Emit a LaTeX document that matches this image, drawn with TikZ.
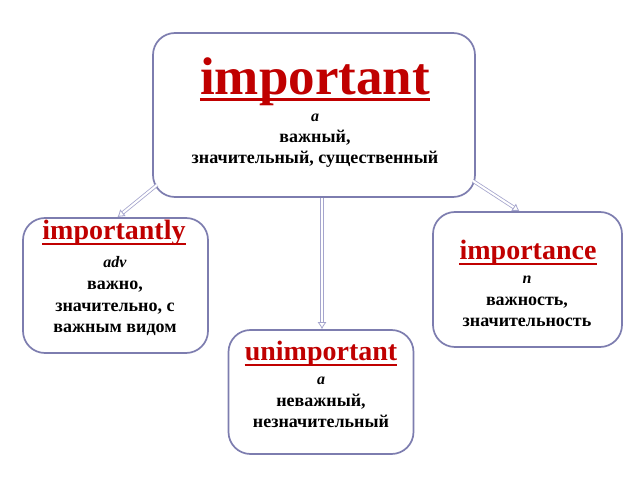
\documentclass[tikz,border=0pt]{standalone}
\usepackage{fontspec}
\setmainfont{Liberation Serif}
\usetikzlibrary{arrows.meta}
\definecolor{titlered}{RGB}{192,0,0}
\definecolor{boxline}{RGB}{125,125,175}
\definecolor{arrowline}{RGB}{165,165,205}
\begin{document}
\begin{tikzpicture}[x=1pt,y=-1pt,
 box/.style={draw=boxline,line width=1.7pt,rounded corners=22pt,fill=white,inner sep=0pt},
 ttl/.style={text=titlered,font=\bfseries\fontsize{28}{32}\selectfont,inner sep=0pt,anchor=base},
 bigttl/.style={ttl,font=\bfseries\fontsize{53}{60}\selectfont},
 body/.style={font=\bfseries\fontsize{18}{21}\selectfont,anchor=base,inner sep=0pt},
 gram/.style={font=\bfseries\itshape\fontsize{16}{18}\selectfont,anchor=base,inner sep=0pt},
 uline/.style={draw=titlered,line width=2pt},
 link/.style={draw=arrowline,line width=0.8pt,double=white,double distance=2pt,-{Latex[open,length=7pt,width=9pt]}}
]
\useasboundingbox[fill=white] (0,0) rectangle (638,478);
% boxes
\node[box,minimum width=322pt,minimum height=164pt] (top) at (314,115) {};
\node[box,minimum width=185pt,minimum height=135pt] (lft) at (115.5,285.5) {};
\node[box,minimum width=189pt,minimum height=135pt] (rgt) at (527.5,279.5) {};
\node[box,minimum width=185pt,minimum height=124pt] (bot) at (321,392) {};
% connectors
\draw[link] ([shift={(5,-13)}]top.south west) -- ([xshift=2pt]lft.north);
\draw[link] ([shift={(-3,-17)}]top.south east) -- ([xshift=-8pt]rgt.north);
\draw[link] ([xshift=1pt]bot.north |- top.south) -- ([xshift=1pt]bot.north);
% top box text
\node[bigttl] (t0) at (315,95) {important};
\draw[uline,line width=3pt] ([yshift=-4.5pt]t0.base west) -- ([yshift=-4.5pt]t0.base east);
\node[gram] (p0) at (315,122) {a};
\node[body] (b0a) at (315,143) {важный,};
\node[body] (b0b) at (315,164) {значительный, существенный};
% left box text
\node[ttl] (t1) at (114,240) {importantly};
\draw[uline] ([yshift=-4pt]t1.base west) -- ([yshift=-4pt]t1.base east);
\node[gram] (p1) at (115,268) {adv};
\node[body] (b1a) at (115,290) {важно,};
\node[body] (b1b) at (115,312) {значительно, с};
\node[body] (b1c) at (115,333) {важным видом};
% right box text
\node[ttl] (t2) at (528,260) {importance};
\draw[uline] ([yshift=-4pt]t2.base west) -- ([yshift=-4pt]t2.base east);
\node[gram] (p2) at (527,284) {n};
\node[body] (b2a) at (527,306) {важность,};
\node[body] (b2b) at (527,327) {значительность};
% bottom box text
\node[ttl] (t3) at (321,361) {unimportant};
\draw[uline] ([yshift=-4pt]t3.base west) -- ([yshift=-4pt]t3.base east);
\node[gram] (p3) at (321,385) {a};
\node[body] (b3a) at (321,407) {неважный,};
\node[body] (b3b) at (321,428) {незначительный};
\end{tikzpicture}
\end{document}
